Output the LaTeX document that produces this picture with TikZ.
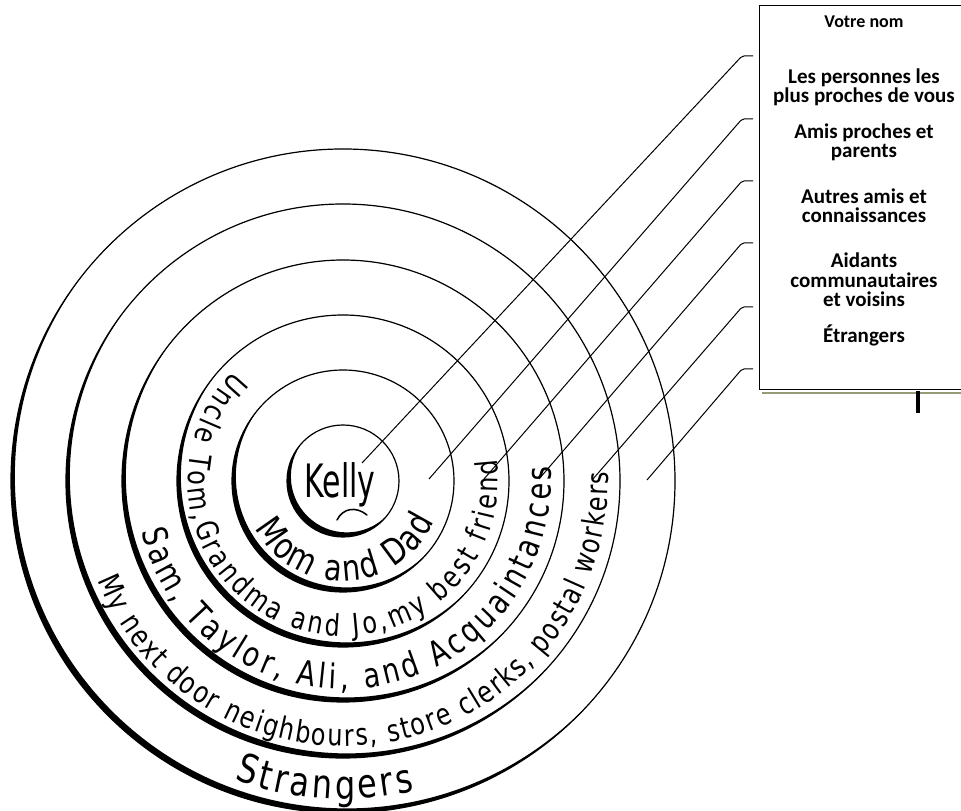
\documentclass[tikz,border=0pt]{standalone}
\usepackage{fontspec}
\newfontfamily\boxfont{Carlito}
\newfontfamily\handfont[FakeStretch=0.8]{DejaVu Sans}
\newfontfamily\handnarrow[FakeStretch=0.65]{DejaVu Sans}
\usetikzlibrary{calc}
\usetikzlibrary{decorations.text}
\definecolor{shadowolive}{RGB}{150,155,120}
\tikzset{ring line/.style={line width=1.2pt},
  leader/.style={line width=1pt, rounded corners=2pt},
  box label/.style={font=\boxfont\bfseries\fontsize{21}{19.5}\selectfont, align=center, anchor=base},
  ring label/.style={decorate, decoration={text along path, text align={fit to path},
      text format delimiters={|}{|}, text={#1}}},}

\begin{document}
\begin{tikzpicture}[x=1pt,y=1pt]
   \clip (0,0) rectangle (961,811);
   \coordinate (ctr) at (343,330);

   % circles with the heavy hand-drawn side
   \foreach \r in {56,111,166,221,277,332}{
     \draw[ring line] (ctr) circle[radius=\r pt];
     \begin{scope}
       \clip (ctr) circle[radius=\r pt];
       \fill[even odd rule] (ctr) circle[radius=\r pt] ($(ctr)+(50:6pt)$) circle[radius=\r pt];
     \end{scope}
   }

   % name box
   \node[draw, line width=1pt, minimum width=220pt, minimum height=384pt,
         anchor=north west, inner sep=0pt] (panel) at (759,806) {};
   \draw[shadowolive, line width=2.5pt] ($(panel.south west)+(3,-3)$) -- ($(panel.south east)+(3,-3)$);
   \draw[line width=4pt] (918,420) -- (918,398);

   \node[box label, font=\boxfont\bfseries\fontsize{18}{19.5}\selectfont] (votre) at (864,783) {Votre nom};
   \node[box label] (closest) at (864,708) {Les personnes les\\plus proches de vous};
   \node[box label] (friends) at (864,653) {Amis proches et\\parents};
   \node[box label] (others) at (864,588) {Autres amis et\\connaissances};
   \node[box label] (helpers) at (864,504) {Aidants\\communautaires\\et voisins};
   \node[box label] (strangers) at (864,468) {Étrangers};

   % leader lines
   \foreach \i/\y/\ex/\ey in {1/755/362/348, 2/692/429/332, 3/630/484/332,
                              4/568/539/332, 5/504/593/332, 6/442/647/331}{
     \coordinate (tab\i) at (753,\y);
     \coordinate (knee\i) at (742,\y);
     \coordinate (spot\i) at (\ex,\ey);
     \draw[leader] (tab\i) -- (knee\i) -- (spot\i);
   }

   % handwriting
   \node[font=\handnarrow\fontsize{46}{48}\selectfont, anchor=base] (kelly) at (340,313) {Kelly};
   \draw[line width=1.5pt, line cap=round] (337,291) .. controls (343,303) and (356,305) .. (367,296);

   \path[ring label={|\handfont\fontsize{36}{38}\selectfont|Mom and Dad}]
     (ctr) ++(208:100pt) arc[start angle=208, end angle=336, radius=100pt];
   \path[ring label={|\handfont\fontsize{30}{32}\selectfont|Uncle Tom,Grandma and Jo,my best friend}]
     (ctr) ++(135:155pt) arc[start angle=135, end angle=368, radius=155pt];
   \path[ring label={|\handfont\fontsize{34}{36}\selectfont|Sam, Taylor, Ali, and Acquaintances}]
     (ctr) ++(194:208pt) arc[start angle=194, end angle=364, radius=208pt];
   \path[ring label={|\handfont\fontsize{30}{32}\selectfont|My next door neighbours, store clerks, postal workers}]
     (ctr) ++(202:265pt) arc[start angle=202, end angle=362, radius=265pt];
   \path[ring label={|\handfont\fontsize{40}{42}\selectfont|Strangers}]
     (ctr) ++(250:318pt) arc[start angle=250, end angle=283, radius=318pt];
\end{tikzpicture}
\end{document}
